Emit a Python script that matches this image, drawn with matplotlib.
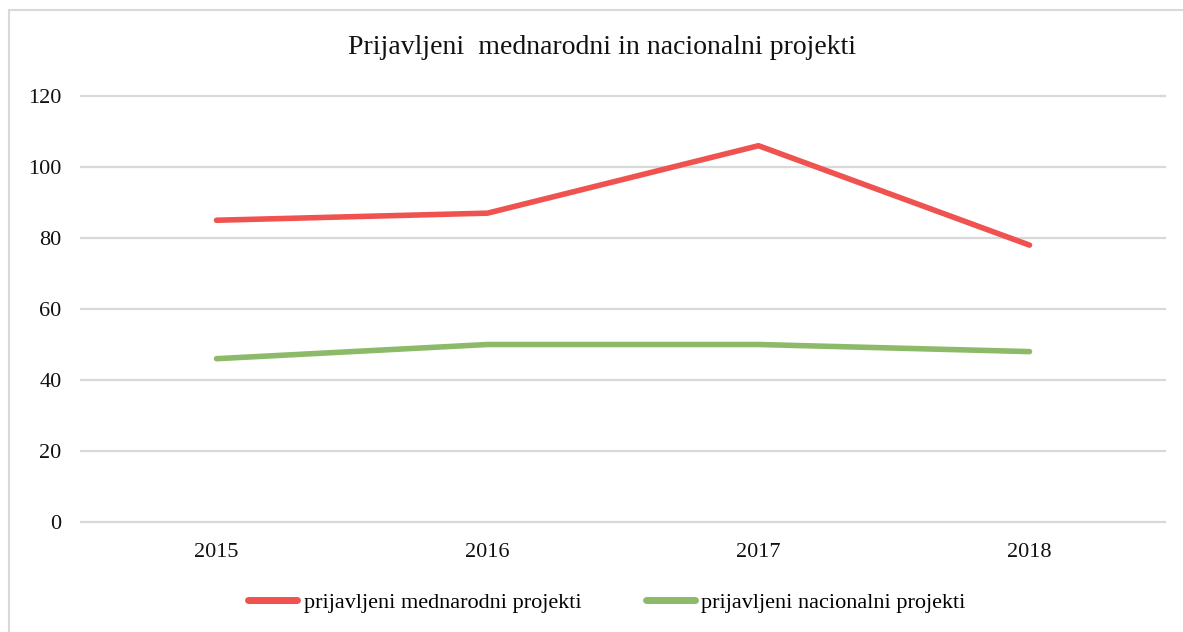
import matplotlib
matplotlib.use("Agg")
import matplotlib.pyplot as plt
from matplotlib.patches import Rectangle

years = ["2015", "2016", "2017", "2018"]
mednarodni = [85, 87, 106, 78]
nacionalni = [46, 50, 50, 48]
yticks = [0, 20, 40, 60, 80, 100, 120]
title = "Prijavljeni  mednarodni in nacionalni projekti"
labels = ["prijavljeni mednarodni projekti", "prijavljeni nacionalni projekti"]

RED = "#EF524F"
GREEN = "#8CBA68"
GRID = "#D9D9D9"

plt.rcParams['font.family'] = ['Liberation Serif', 'DejaVu Serif']

W, H = 1183, 632
fig = plt.figure(figsize=(W / 100, H / 100), dpi=100)
fig.patch.set_facecolor("white")

# outer chart border
fig.patches.append(Rectangle((9 / W, -0.05), 1.2, (H - 10) / H + 0.05, transform=fig.transFigure,
                             fill=False, edgecolor=GRID, linewidth=1.5, zorder=0))

left, right = 81 / W, 1165 / W
bottom, top = 1 - 522 / H, 1 - 96 / H
ax = fig.add_axes([left, bottom, right - left, top - bottom])

x = list(range(len(years)))
ax.plot(x, mednarodni, color=RED, linewidth=4, solid_capstyle="round", label=labels[0], zorder=3)
ax.plot(x, nacionalni, color=GREEN, linewidth=4, solid_capstyle="round", label=labels[1], zorder=3)

ax.set_xlim(-0.5, len(years) - 0.5)
ax.set_ylim(0, 120)
ax.set_yticks(yticks)
ax.set_yticklabels([str(v) for v in yticks])
ax.set_xticks(x)
ax.set_xticklabels(years)
ax.tick_params(axis="both", length=0, labelsize=16, colors="#111111")
ax.tick_params(axis="y", pad=14)
ax.tick_params(axis="x", pad=15)
ax.grid(axis="y", color=GRID, linewidth=1.6)
for gl in ax.get_ygridlines():
    gl.set_clip_on(False)
ax.set_axisbelow(True)
for s in ax.spines.values():
    s.set_visible(False)

fig.text(0.5 * (345 + 860) / W, 1 - 48 / H, title, ha="center", va="center", fontsize=20, color="#111111")

leg = fig.legend(loc="center", bbox_to_anchor=(607 / W, 1 - 603 / H), ncol=2, frameon=False,
                 fontsize=16, handlelength=2.2, handletextpad=0.3, columnspacing=2.9)
for h in leg.get_lines():
    h.set_linewidth(5)
    h.set_solid_capstyle("round")

fig.savefig("out.png", dpi=100, facecolor="white")
